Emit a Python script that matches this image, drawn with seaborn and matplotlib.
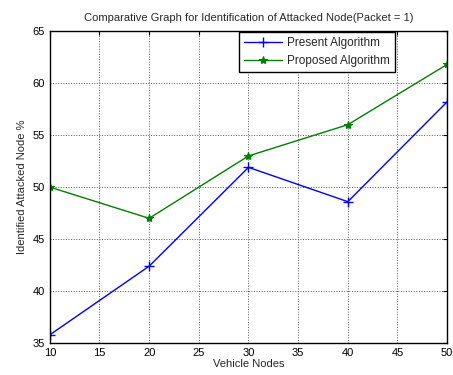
import pandas as pd
import matplotlib
matplotlib.use('Agg')
import matplotlib.pyplot as plt
import seaborn as sns

vehicle_nodes = [10, 20, 30, 40, 50]
present_algo = [35.8, 42.4, 51.9, 48.6, 58.2]
proposed_algo = [50.0, 47.0, 53.0, 56.0, 61.8]
y_ticks = [35, 40, 45, 50, 55, 60, 65]
x_ticks = [10, 15, 20, 25, 30, 35, 40, 45, 50]

sns.set_style('white')
plt.rcParams['font.family'] = ['Liberation Sans', 'DejaVu Sans']

df = pd.DataFrame({
    'Vehicle Nodes': vehicle_nodes * 2,
    'value': present_algo + proposed_algo,
    'series': ['Present Algorithm'] * 5 + ['Proposed Algorithm'] * 5,
})

fig = plt.figure(figsize=(4.53, 3.75), dpi=100)
ax = fig.add_axes([0.110, 0.085, 0.877, 0.832])

sns.lineplot(data=df[df['series'] == 'Present Algorithm'], x='Vehicle Nodes', y='value',
             color='#0000ff', marker='+', markersize=7, markeredgewidth=1.0,
             markeredgecolor='#0000ff', linewidth=1.0, label='Present Algorithm', ax=ax)
sns.lineplot(data=df[df['series'] == 'Proposed Algorithm'], x='Vehicle Nodes', y='value',
             color='#008000', marker='*', markersize=6, markeredgewidth=0.8,
             markeredgecolor='#008000', markerfacecolor='#008000',
             linewidth=1.0, label='Proposed Algorithm', ax=ax)

ax.set_xlim(10, 50)
ax.set_ylim(35, 65)
ax.set_xticks(x_ticks)
ax.set_yticks(y_ticks)
ax.grid(True, color='#555555', linestyle=':', linewidth=0.7)
for s in ax.spines.values():
    s.set_color('black')
    s.set_linewidth(1.0)
ax.tick_params(direction='in', length=3, labelsize=8, colors='black', top=True, right=True)
ax.set_xlabel('Vehicle Nodes', fontsize=8, labelpad=1)
ax.set_ylabel('Identified Attacked Node %', fontsize=8, labelpad=4)
ax.set_title('Comparative Graph for Identification of Attacked Node(Packet = 1)', fontsize=8, pad=7)

leg = ax.legend(loc='upper left', bbox_to_anchor=(0.475, 0.998), fontsize=8.5,
                frameon=True, fancybox=False, borderaxespad=0, handlelength=3.2,
                handletextpad=0.45, borderpad=0.45, labelspacing=0.5)
leg.get_frame().set_edgecolor('black')
leg.get_frame().set_linewidth(1.0)
leg.get_frame().set_alpha(1.0)

fig.savefig('out.png', dpi=100)
